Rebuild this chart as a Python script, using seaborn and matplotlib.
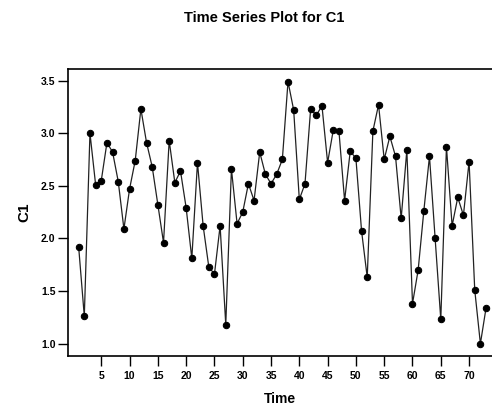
import matplotlib
matplotlib.use("Agg")
import matplotlib.pyplot as plt
import seaborn as sns
import pandas as pd

# C1 values, one per time index
c1 = [1.92, 1.26, 3.00, 2.51, 2.55, 2.91, 2.82, 2.54, 2.09, 2.47,
      2.74, 3.23, 2.91, 2.68, 2.32, 1.96, 2.93, 2.53, 2.64, 2.29,
      1.81, 2.72, 2.12, 1.73, 1.66, 2.12, 1.18, 2.66, 2.14, 2.25,
      2.52, 2.36, 2.82, 2.61, 2.52, 2.61, 2.75, 3.49, 3.22, 2.37,
      2.52, 3.23, 3.17, 3.26, 2.72, 3.03, 3.02, 2.36, 2.83, 2.76,
      2.07, 1.63, 3.02, 3.27, 2.75, 2.97, 2.78, 2.19, 2.84, 1.38,
      1.70, 2.26, 2.78, 2.00, 1.23, 2.87, 2.12, 2.39, 2.22, 2.73,
      1.51, 1.00, 1.34]
time = list(range(1, len(c1) + 1))
x_ticks = [5, 10, 15, 20, 25, 30, 35, 40, 45, 50, 55, 60, 65, 70]
y_ticks = [1.0, 1.5, 2.0, 2.5, 3.0, 3.5]

df = pd.DataFrame({"Time": time, "C1": c1})

sns.set_theme(style="white")
plt.rcParams["font.family"] = ["Liberation Sans", "DejaVu Sans"]
plt.rcParams["text.color"] = "black"
plt.rcParams["axes.labelcolor"] = "black"
plt.rcParams["xtick.color"] = "black"
plt.rcParams["ytick.color"] = "black"

fig = plt.figure(figsize=(4.92, 4.05), dpi=100)
ax = fig.add_axes([0.138, 0.121, 0.862, 0.709])

sns.lineplot(data=df, x="Time", y="C1", ax=ax, color="#222222", linewidth=0.9,
             marker="o", markersize=4.6, markerfacecolor="black",
             markeredgecolor="black")

ax.set_xlim(-0.9, 74.05)
ax.set_ylim(0.883, 3.611)
ax.set_xticks(x_ticks)
ax.set_yticks(y_ticks)
ax.set_yticklabels([f"{v:.1f}" for v in y_ticks])
ax.tick_params(axis="both", direction="out", length=7, width=1,
               colors="black", labelsize=7.5, bottom=True, left=True)
ax.tick_params(axis="x", pad=4)
ax.tick_params(axis="y", pad=2)
for lbl in ax.get_xticklabels() + ax.get_yticklabels():
    lbl.set_fontweight("bold")

for side in ["left", "bottom", "top"]:
    ax.spines[side].set_color("black")
    ax.spines[side].set_linewidth(1.2)
ax.spines["right"].set_visible(False)

ax.set_xlabel("Time", fontsize=10, fontweight="bold", labelpad=8)
ax.set_ylabel("C1", fontsize=11, fontweight="bold", labelpad=7)
fig.text(0.537, 0.956, "Time Series Plot for C1", ha="center", va="center",
         fontsize=10.5, fontweight="bold")

fig.savefig("out.png", dpi=100)
